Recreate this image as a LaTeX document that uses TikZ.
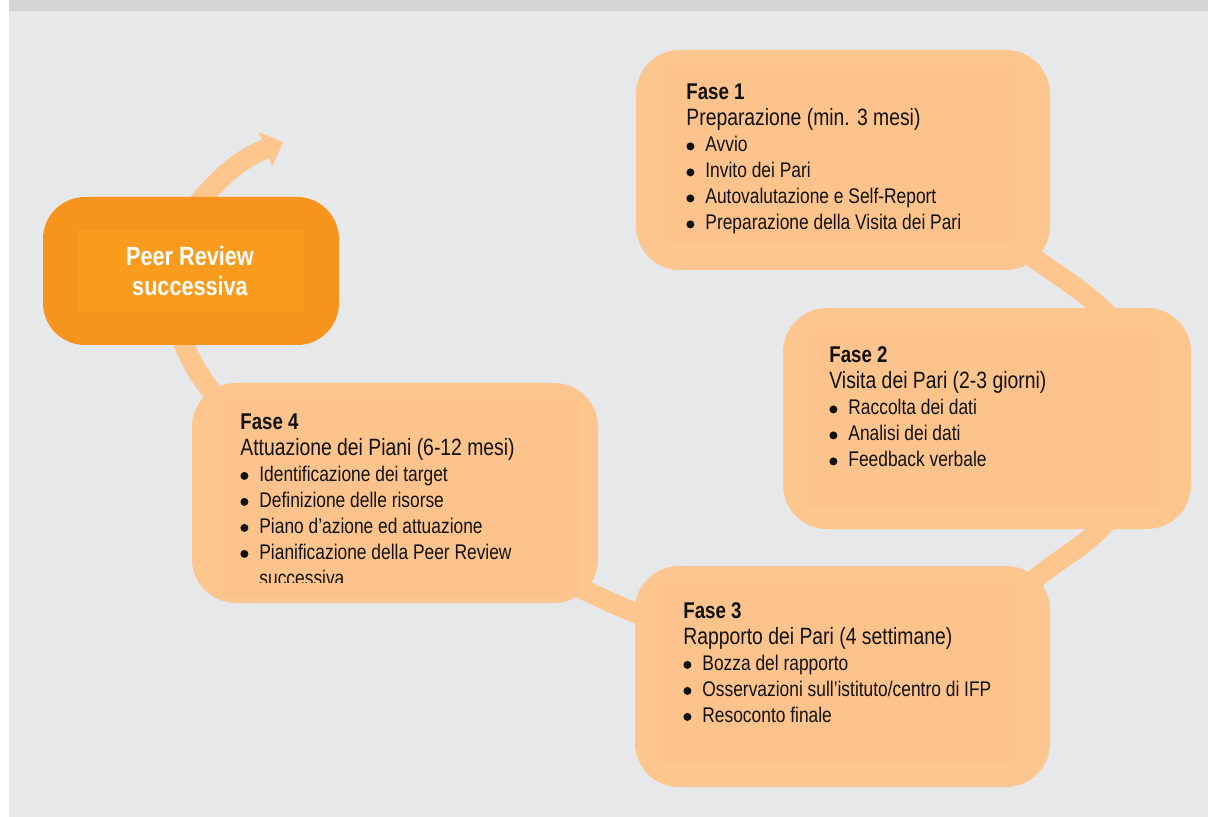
\documentclass[tikz,border=0pt]{standalone}
\usepackage{fontspec}
\setmainfont{Liberation Sans}[FakeStretch=0.82]
\usetikzlibrary{arrows.meta}

\definecolor{pagebg}{HTML}{E7E8EA}
\definecolor{topband}{HTML}{D3D4D6}
\definecolor{peach}{HTML}{FDC68F}
\definecolor{peachin}{HTML}{FCC48C}
\definecolor{deeporange}{HTML}{F7941E}
\definecolor{deeporangein}{HTML}{F99B1D}
\definecolor{ink}{HTML}{111111}

% fonts of the phase texts
\newcommand\phasehead{\bfseries\fontsize{11.4pt}{13pt}\selectfont}
\newcommand\phasesub{\fontsize{11.8pt}{13pt}\selectfont}
\newcommand\phaseitemfont{\fontsize{10.6pt}{13pt}\selectfont}
\newcommand\listdot{\tikz[baseline=0pt,x=1pt,y=1pt]\fill[ink] (2,2.75) circle[radius=2];}
\newcommand\bulletline[1]{\makebox[9.5pt][l]{\listdot}#1}
\newcommand\firststrut{\rule{0pt}{11pt}}

\pgfdeclarelayer{back}
\pgfsetlayers{back,main}

\tikzset{
  phase/.style={rectangle, rounded corners=22pt, fill=peach, inner sep=0pt},
  frame/.style={rectangle, fill=peachin, inner sep=0pt},
  phasetext/.style={anchor=north west, inner sep=0pt, align=left, text=ink, font=\phaseitemfont},
  flow/.style={draw=peach, line width=10pt},
  intobox/.style={shorten <=-14pt, shorten >=-14pt},
}

\begin{document}
\begin{tikzpicture}[x=0.5pt,y=0.5pt]
\path[use as bounding box] (0,0) rectangle (1208,-817);

% phase boxes
\node[phase, minimum width=207pt, minimum height=110pt] (f1) at (843,-160) {};
\node[frame, minimum width=175pt, minimum height=88pt] (f1in) at (840,-155) {};
\node[phase, minimum width=204pt, minimum height=110.5pt] (f2) at (987,-418.5) {};
\node[frame, minimum width=176pt, minimum height=88.5pt] (f2in) at (984,-418.5) {};
\node[phase, minimum width=207.5pt, minimum height=110.5pt] (f3) at (842.5,-676.5) {};
\node[frame, minimum width=176.5pt, minimum height=90pt] (f3in) at (838.5,-673) {};
\node[phase, minimum width=203pt, minimum height=110pt] (f4) at (395,-493) {};
\node[frame, minimum width=179pt, minimum height=99pt] (f4in) at (401,-497) {};

% next cycle box
\node[rectangle, rounded corners=21pt, fill=deeporange, inner sep=0pt,
      minimum width=148pt, minimum height=74pt] (peer) at (191,-271) {};
\node[rectangle, fill=deeporangein, inner sep=0pt,
      minimum width=113.5pt, minimum height=41pt] (peerin) at (190.5,-271) {};
\node[anchor=north, inner sep=0pt, align=center, text=white,
      font=\bfseries\fontsize{13.2pt}{15pt}\selectfont] (peertext) at (190,-241)
  {\rule{0pt}{12pt}Peer Review\\successiva};

% phase texts
\node[phasetext] (f1text) at (686,-77.5) {\firststrut{\phasehead Fase 1}\\
  {\phasesub Preparazione (min. 3 mesi)}\\
  \bulletline{Avvio}\\
  \bulletline{Invito dei Pari}\\
  \bulletline{Autovalutazione e Self-Report}\\
  \bulletline{Preparazione della Visita dei Pari}};

\node[phasetext] (f2text) at (829,-340.5) {\firststrut{\phasehead Fase 2}\\
  {\phasesub Visita dei Pari (2-3 giorni)}\\
  \bulletline{Raccolta dei dati}\\
  \bulletline{Analisi dei dati}\\
  \bulletline{Feedback verbale}};

\node[phasetext] (f3text) at (683,-596) {\firststrut{\phasehead Fase 3}\\
  {\phasesub Rapporto dei Pari (4 settimane)}\\
  \bulletline{Bozza del rapporto}\\
  \bulletline{Osservazioni sull’istituto/centro di IFP}\\
  \bulletline{Resoconto finale}};

\begin{scope}
  \clip (0,0) rectangle (1208,-582);
  \node[phasetext] (f4text) at (240,-407) {\firststrut{\phasehead Fase 4}\\
    {\phasesub Attuazione dei Piani (6-12 mesi)}\\
    \bulletline{Identificazione dei target}\\
    \bulletline{Definizione delle risorse}\\
    \bulletline{Piano d’azione ed attuazione}\\
    \bulletline{Pianificazione della Peer Review}\\
    \hspace*{9.5pt}successiva};
\end{scope}

\coordinate (nextcycle) at (283,-142);

\begin{pgfonlayer}{back}
  % page
  \fill[white] (0,0) rectangle (1208,-817);
  \fill[pagebg] (9,0) rectangle (1208,-817);
  \fill[topband] (9,0) rectangle (1208,-11);
  % cycle connectors
  \draw[flow, intobox] (f1.south east) to[out=-37, in=132] (f2.44);
  \draw[flow, intobox] (f2.-44) to[out=-127, in=41] (f3.north east);
  \draw[flow, intobox] (f3.163) to[out=160, in=-25] (f4.-27);
  \draw[flow, intobox] (peer.-95) to[out=-67, in=131] (f4.150);
  \draw[flow, shorten <=-14pt, -{Triangle[width=18.5pt, length=9.5pt, line width=0pt]}]
    (peer.81) to[out=52, in=-158] (nextcycle);
\end{pgfonlayer}
\end{tikzpicture}
\end{document}
